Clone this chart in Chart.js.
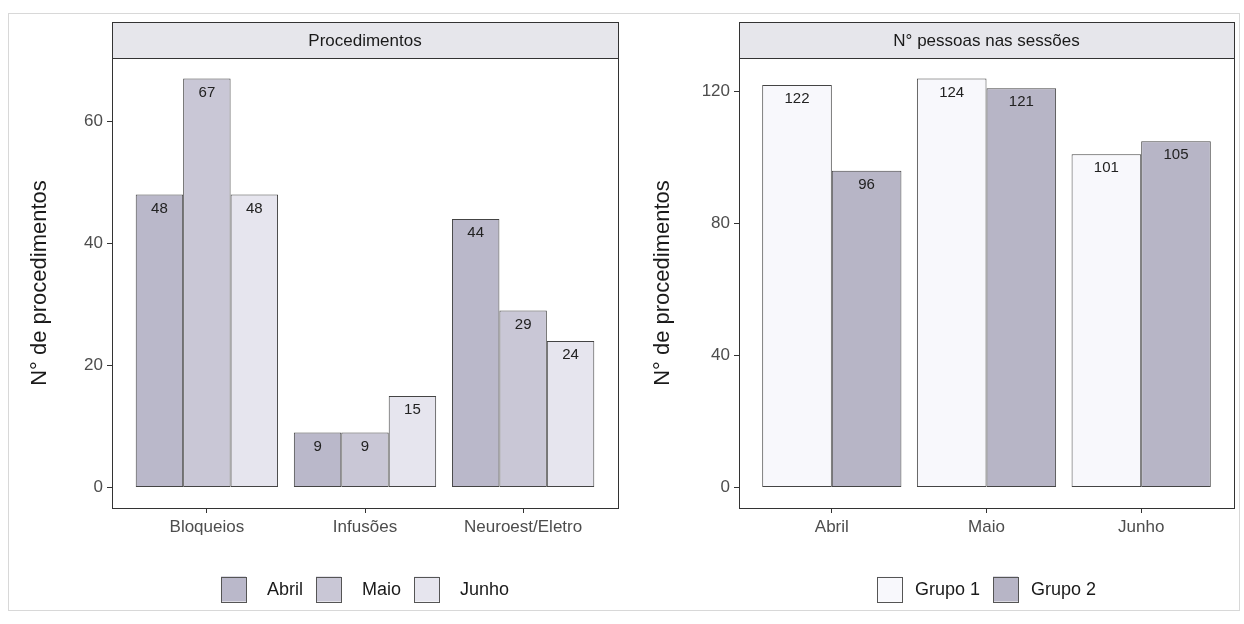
<!DOCTYPE html>
<html>
<head>
<meta charset="utf-8">
<script src="https://cdn.jsdelivr.net/npm/chart.js@4.4.1/dist/chart.umd.min.js"></script>
<style>
    html, body { margin: 0; padding: 0; background: #fff; }
    body { width: 1244px; height: 624px; position: relative; overflow: hidden; }
    .frame { position: absolute; left: 8px; top: 13px; width: 1232px; height: 598px; border: 1px solid #d8d8d8; box-sizing: border-box; }
    #left { position: absolute; left: 0; top: 0; }
    #right { position: absolute; left: 620px; top: 0; }
</style>
</head>
<body>
<div class="frame"></div>
<canvas id="left" width="620" height="624" style="width:620px;height:624px"></canvas>
<canvas id="right" width="624" height="624" style="width:624px;height:624px"></canvas>
<script>
// painel 1: procedimentos por mes
const procCategories = ["Bloqueios", "Infusões", "Neuroest/Eletro"];
const abril = [48, 9, 44];
const maio = [67, 9, 29];
const junho = [48, 15, 24];
const procTicks = [0, 20, 40, 60];

// painel 2: pessoas nas sessoes
const months = ["Abril", "Maio", "Junho"];
const grupo1 = [122, 124, 101];
const grupo2 = [96, 121, 105];
const sessTicks = [0, 40, 80, 120];

Chart.defaults.font.family = "'Liberation Sans', Arial, sans-serif";
Chart.defaults.color = "#4d4d4d";

const toPoints = (values) => values.map((v, i) => ({ x: i + 1, y: v }));

const facetPlugin = {
    id: "facet",
    afterDatasetsDraw(chart, args, opts) {
        const { ctx, chartArea } = chart;
        ctx.save();

        // rotulos dentro das barras
        ctx.fillStyle = "#222";
        ctx.font = "15px 'Liberation Sans', Arial, sans-serif";
        ctx.textAlign = "center";
        ctx.textBaseline = "middle";
        chart.data.datasets.forEach((ds, di) => {
            chart.getDatasetMeta(di).data.forEach((bar, i) => {
                ctx.fillText(String(ds.data[i].y), bar.x, bar.y + 14);
            });
        });

        // caixa do painel
        ctx.strokeStyle = "#333";
        ctx.lineWidth = 1;
        ctx.strokeRect(Math.round(chartArea.left) + 0.5, Math.round(chartArea.top) + 0.5,
            Math.round(chartArea.right - chartArea.left), Math.round(chartArea.bottom - chartArea.top));

        // faixa do titulo
        const stripTop = 22;
        ctx.fillStyle = "#e6e6eb";
        ctx.fillRect(chartArea.left, stripTop, chartArea.right - chartArea.left, chartArea.top - stripTop);
        ctx.strokeRect(Math.round(chartArea.left) + 0.5, stripTop + 0.5,
            Math.round(chartArea.right - chartArea.left), Math.round(chartArea.top - stripTop));
        ctx.fillStyle = "#1a1a1a";
        ctx.font = "17px 'Liberation Sans', Arial, sans-serif";
        ctx.fillText(opts.title, (chartArea.left + chartArea.right) / 2, (stripTop + chartArea.top) / 2 + 1);

        // legenda
        const box = 25;
        ctx.font = "18px 'Liberation Sans', Arial, sans-serif";
        const items = chart.data.datasets.map((ds) => ({ label: ds.label, color: ds.backgroundColor, w: ctx.measureText(ds.label).width }));
        const total = items.reduce((acc, it) => acc + box + opts.keyGap + it.w, 0) + opts.itemGap * (items.length - 1);
        let x = (chartArea.left + chartArea.right) / 2 - total / 2;
        const cy = 589;
        ctx.textAlign = "left";
        items.forEach((it) => {
            ctx.fillStyle = it.color;
            ctx.fillRect(x, cy - box / 2, box, box);
            ctx.strokeStyle = "#555";
            ctx.strokeRect(Math.round(x) + 0.5, Math.round(cy - box / 2) + 0.5, box, box);
            x += box + opts.keyGap;
            ctx.fillStyle = "#1a1a1a";
            ctx.fillText(it.label, x, cy + 1);
            x += it.w + opts.itemGap;
        });
        ctx.restore();
    }
};

const makeChart = (canvasId, categories, series, ticks, cfg) => {
    const maxVal = Math.max(...series.flatMap((s) => s.values));
    const pad = maxVal * 0.05;
    return new Chart(document.getElementById(canvasId), {
        type: "bar",
        data: {
            datasets: series.map((s) => ({
                label: s.label,
                data: toPoints(s.values),
                backgroundColor: s.color,
                borderColor: "#444",
                borderWidth: 1,
                borderSkipped: false,
                categoryPercentage: 0.9,
                barPercentage: 1.0
            }))
        },
        options: {
            responsive: false,
            animation: false,
            layout: { padding: { top: 58, right: cfg.padRight, left: 0, bottom: 0 } },
            plugins: {
                legend: { display: false },
                tooltip: { enabled: false },
                facet: { title: cfg.title, keyGap: cfg.keyGap, itemGap: 13 }
            },
            scales: {
                x: {
                    type: "linear",
                    offset: false,
                    min: 0.4,
                    max: categories.length + 0.6,
                    afterBuildTicks: (scale) => { scale.ticks = categories.map((c, i) => ({ value: i + 1 })); },
                    afterFit: (scale) => { scale.height = 116; },
                    grid: { offset: false, drawOnChartArea: false, drawTicks: true, tickLength: 5, color: "#333" },
                    border: { display: false },
                    ticks: {
                        autoSkip: false,
                        maxRotation: 0,
                        padding: 4,
                        font: { size: 17 },
                        color: "#4d4d4d",
                        callback: (v) => categories[v - 1]
                    }
                },
                y: {
                    min: -pad,
                    max: maxVal + pad,
                    afterBuildTicks: (scale) => { scale.ticks = ticks.map((v) => ({ value: v })); },
                    afterFit: (scale) => { scale.width = cfg.yWidth; },
                    grid: { drawOnChartArea: false, drawTicks: true, tickLength: 5, color: "#333" },
                    border: { display: false },
                    ticks: { padding: 4, font: { size: 17 }, color: "#4d4d4d" },
                    title: {
                        display: true,
                        text: "N° de procedimentos",
                        font: { size: 22 },
                        color: "#1a1a1a",
                        padding: { top: cfg.titlePad, bottom: 0 }
                    }
                }
            }
        },
        plugins: [facetPlugin]
    });
};

makeChart("left", procCategories, [
    { label: "Abril", values: abril, color: "#bab8ca" },
    { label: "Maio", values: maio, color: "#c9c7d6" },
    { label: "Junho", values: junho, color: "#e6e5ee" }
], procTicks, { title: "Procedimentos", padRight: 2, yWidth: 112, titlePad: 27, keyGap: 21 });

makeChart("right", months, [
    { label: "Grupo 1", values: grupo1, color: "#f8f8fc" },
    { label: "Grupo 2", values: grupo2, color: "#b7b5c6" }
], sessTicks, { title: "N° pessoas nas sessões", padRight: 10, yWidth: 119, titlePad: 30, keyGap: 13 });
</script>
</body>
</html>
